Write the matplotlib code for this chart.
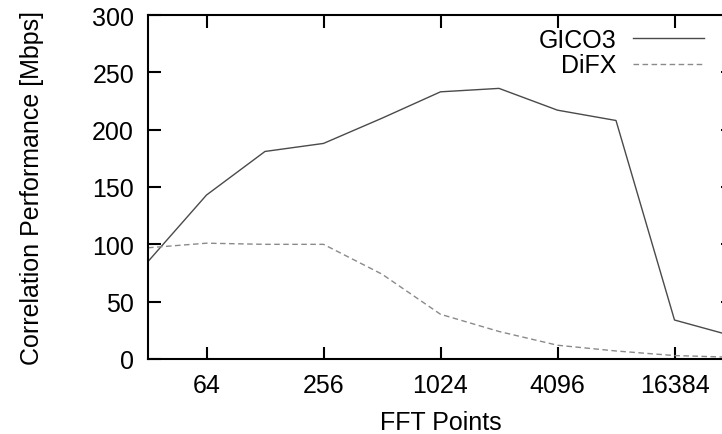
import numpy as np
import matplotlib.pyplot as plt

plt.rcParams['font.family'] = ['Liberation Sans', 'DejaVu Sans']

fft_points = [32, 64, 128, 256, 512, 1024, 2048, 4096, 8192, 16384, 32768]
gico3 = [85, 143, 181, 188, 210, 233, 236, 217, 208, 34, 20]
difx = [97, 101, 100, 100, 74, 39, 24, 12, 7, 3, 1.5]
xticks = [64, 256, 1024, 4096, 16384]
yticks = [0, 50, 100, 150, 200, 250, 300]

fig = plt.figure(figsize=(7.22, 4.35), dpi=100)
# right edge of the frame lies just outside the picture, as in the original
ax = fig.add_axes([148/722, 1 - 360/435, 585/722, 344/435])

ax.plot(fft_points, gico3, color='#4a4a4a', lw=1.0, label='GICO3')
ax.plot(fft_points, difx, color='#8a8a8a', lw=1.0, ls=(0, (4, 2.5)), label='DiFX')

ax.set_xscale('log', base=2)
ax.set_xlim(32, 32768)
ax.set_ylim(0, 300)
ax.set_xticks(xticks)
ax.set_xticklabels([str(t) for t in xticks])
ax.minorticks_off()
ax.set_yticks(yticks)

for s in ax.spines.values():
    s.set_linewidth(1.5)
ax.tick_params(direction='in', length=9, width=1.5, top=True, right=True,
               labelsize=18, pad=10)

ax.set_xlabel('FFT Points', fontsize=18)
ax.set_ylabel('Correlation Performance [Mbps]', fontsize=18)
ax.xaxis.set_label_coords(0.5, -(423 - 360) / 344, transform=ax.transAxes)
ax.xaxis.label.set_va('center')
ax.yaxis.set_label_coords(-(148 - 32) / 585, 0.5)
ax.yaxis.label.set_va('center')

fig.legend(loc='upper right', bbox_to_anchor=(704/722, 1 - 29/435),
           frameon=False, markerfirst=False, fontsize=18, handlelength=2.85,
           handletextpad=0.65, labelspacing=0.05, borderpad=0, borderaxespad=0)

fig.savefig('out.png', dpi=100)
